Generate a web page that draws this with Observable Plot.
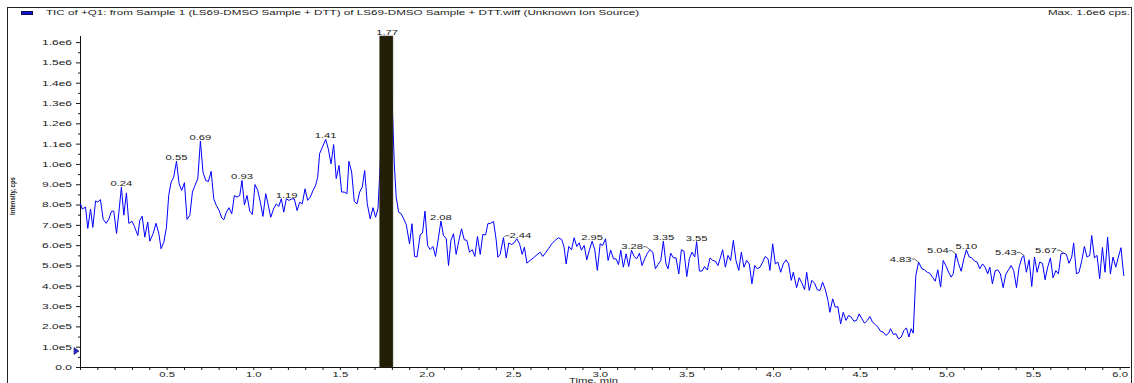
<!DOCTYPE html>
<html>
<head>
<meta charset="utf-8">
<script src="https://cdn.jsdelivr.net/npm/d3@7"></script>
<script src="https://cdn.jsdelivr.net/npm/@observablehq/plot@0.6"></script>
<style>
  body { margin: 0; background: #fff; }
  #wrap { position: relative; width: 1134px; height: 383px; overflow: hidden;
          font-family: "Liberation Sans", Arial, sans-serif; color: #1a1a1a; }
  #wrap svg { position: absolute; left: 0; top: 0; }
  #frame { position: absolute; left: 7px; top: 7px; width: 1125px; height: 430px;
           border: 1px solid #222; box-sizing: border-box; }
  #swatch { position: absolute; left: 21px; top: 11px; width: 12px; height: 4px;
            background: #1414d8; border: 1px solid #10104a; box-sizing: border-box; }
  .hd { position: absolute; top: 8px; font-size: 7.5px; line-height: 10px; white-space: nowrap; }
  #title { left: 46px; transform: scaleX(1.55); transform-origin: left center; }
  #maxt { right: 4px; transform: scaleX(1.55); transform-origin: right center; }
  #ylab { position: absolute; left: 12px; top: 196px; font-size: 8px; font-weight: bold;
          white-space: nowrap; transform: translate(-50%, -50%) rotate(-90deg) scaleX(0.75); }
</style>
</head>
<body>
<div id="wrap">
  <div id="frame"></div>
  <div id="swatch"></div>
  <div class="hd" id="title">TIC of +Q1: from Sample 1 (LS69-DMSO Sample + DTT) of LS69-DMSO Sample + DTT.wiff (Unknown Ion Source)</div>
  <div class="hd" id="maxt">Max. 1.6e6 cps.</div>
  <div id="ylab">Intensity, cps</div>
</div>
<script>
// ---- data: [time (min), intensity (x1e5 cps)] ----
const traceSegA = [[0.000,8.06],[0.010,7.8],[0.029,7.9],[0.042,6.85],[0.058,7.8],[0.071,6.9],[0.087,8.2],[0.100,8.15],[0.115,8.27],[0.131,7.3],[0.148,7.1],[0.163,7.3],[0.179,7.7],[0.192,7.7],[0.208,6.6],[0.221,7.6],[0.236,8.88],[0.250,7.5],[0.265,8.6],[0.279,7.1],[0.298,7.2],[0.311,6.95],[0.331,6.5],[0.342,7.24],[0.356,7.45],[0.371,6.42],[0.388,7.16],[0.400,6.22],[0.419,6.59],[0.436,7.1],[0.452,6.6],[0.465,5.85],[0.481,6.17],[0.496,6.9],[0.509,8.47],[0.523,9.13],[0.538,9.37],[0.554,10.16],[0.569,9.05],[0.584,8.72],[0.600,9.1],[0.615,7.29],[0.631,7.49],[0.646,8.64],[0.661,8.97],[0.677,9.3],[0.692,11.15],[0.707,9.62],[0.723,9.21],[0.738,9.16],[0.754,9.66],[0.769,8.31],[0.784,7.98],[0.800,7.73],[0.815,7.37],[0.827,7.27],[0.842,7.65],[0.857,7.87],[0.873,7.57],[0.888,8.47],[0.903,8.39],[0.919,8.47],[0.932,9.21],[0.946,8.01],[0.961,8.47],[0.977,7.7],[0.992,7.54],[1.007,9.01],[1.023,8.72],[1.038,8.14],[1.053,7.44],[1.069,8.56],[1.084,7.98],[1.098,7.4],[1.115,7.82],[1.130,8.06],[1.144,7.93],[1.159,8.31],[1.173,7.65],[1.188,8.31],[1.203,8.23],[1.219,8.3],[1.234,8.31],[1.250,7.73],[1.265,8.14],[1.280,8.06],[1.296,8.8],[1.311,8.23],[1.326,8.39],[1.342,8.72],[1.357,8.97],[1.369,9.37],[1.380,10.53],[1.396,10.85],[1.415,11.23],[1.430,10.77],[1.446,10.03],[1.461,10.98],[1.476,9.3],[1.492,9.95],[1.507,8.64],[1.522,8.64],[1.538,8.56],[1.549,10.15],[1.565,9.62],[1.580,8.18],[1.596,8.06],[1.611,8.64],[1.626,8.88],[1.640,9.7],[1.655,8.06],[1.672,7.32],[1.688,7.87],[1.703,7.4],[1.717,7.82],[1.730,10.1]];
const traceSegPeak = [[1.745,14.0],[1.770,16.3],[1.795,14.0]];
const traceSegB = [[1.811,10.03],[1.822,8.39],[1.836,7.65],[1.851,7.57],[1.865,7.32],[1.880,7.04],[1.899,6.09],[1.913,7.08],[1.928,5.47],[1.942,5.44],[1.961,6.55],[1.974,6.62],[1.988,7.7],[2.003,6.01],[2.018,5.81],[2.034,5.96],[2.049,5.47],[2.065,6.34],[2.080,7.21],[2.095,6.5],[2.111,6.34],[2.124,5.02],[2.138,6.26],[2.153,6.59],[2.168,5.57],[2.184,6.26],[2.199,6.83],[2.215,6.29],[2.230,6.26],[2.245,5.68],[2.261,5.8],[2.276,5.47],[2.291,6.45],[2.307,5.57],[2.322,6.55],[2.338,6.53],[2.351,7.08],[2.366,7.1],[2.384,7.19],[2.399,6.29],[2.409,5.43],[2.422,5.57],[2.441,6.39],[2.457,5.4],[2.472,6.13],[2.488,6.06],[2.503,6.14],[2.518,6.34],[2.534,6.09],[2.549,5.57],[2.562,5.93],[2.576,5.14],[2.595,5.27],[2.614,5.4],[2.634,5.55],[2.653,5.68],[2.668,5.47],[2.687,5.68],[2.701,5.85],[2.720,6.09],[2.739,6.26],[2.759,6.39],[2.778,6.29],[2.791,5.93],[2.803,5.1],[2.818,5.96],[2.834,5.8],[2.849,6.39],[2.864,5.96],[2.878,6.14],[2.891,5.78],[2.907,6.01],[2.922,5.3],[2.937,5.78],[2.953,6.22],[2.968,5.8],[2.983,4.78],[2.999,6.09],[3.014,6.01],[3.030,6.34],[3.045,5.27],[3.060,5.78],[3.076,5.35],[3.091,5.35],[3.105,5.07],[3.118,5.78],[3.133,4.94],[3.149,5.6],[3.164,4.97],[3.180,5.78],[3.195,5.47],[3.210,5.35],[3.226,5.63],[3.241,5.02],[3.256,5.35],[3.272,5.63],[3.287,5.8],[3.303,5.68],[3.318,4.86],[3.333,5.07],[3.349,5.27],[3.364,6.22],[3.379,5.1],[3.391,4.86],[3.406,5.63],[3.422,5.4],[3.437,5.4],[3.453,4.61],[3.468,5.8],[3.483,5.73],[3.499,4.48],[3.514,5.35],[3.529,5.68],[3.545,5.44],[3.556,6.2],[3.572,4.75],[3.587,4.75],[3.602,4.97],[3.618,4.8],[3.633,5.4],[3.649,5.27],[3.664,5.24],[3.679,5.02],[3.691,5.35]];
const traceSegC = [[3.706,5.8],[3.722,4.94],[3.737,5.52],[3.752,5.27],[3.768,6.26],[3.783,5.27],[3.799,4.78],[3.814,5.68],[3.829,4.94],[3.845,5.27],[3.860,5.1],[3.875,4.12],[3.891,5.02],[3.906,4.86],[3.922,4.94],[3.937,5.19],[3.952,5.47],[3.968,5.35],[3.979,4.78],[3.995,6.09],[4.010,5.1],[4.025,5.19],[4.041,4.69],[4.056,5.1],[4.072,5.3],[4.087,5.1],[4.102,4.29],[4.114,4.69],[4.133,3.93],[4.148,4.42],[4.164,4.15],[4.179,3.83],[4.191,4.69],[4.206,3.79],[4.221,4.29],[4.237,4.15],[4.252,3.83],[4.268,3.79],[4.283,4.2],[4.298,3.86],[4.314,3.3],[4.325,2.72],[4.341,3.38],[4.356,2.97],[4.371,3.0],[4.387,2.15],[4.402,2.72],[4.418,2.32],[4.433,2.56],[4.448,2.48],[4.464,2.28],[4.479,2.32],[4.494,2.64],[4.510,2.4],[4.525,2.18],[4.541,2.32],[4.556,2.51],[4.571,2.23],[4.587,2.12],[4.602,1.99],[4.617,1.79],[4.633,1.74],[4.648,1.58],[4.664,1.69],[4.675,1.91],[4.691,1.63],[4.706,1.66],[4.721,1.41],[4.737,1.5],[4.752,1.82],[4.767,1.95],[4.781,1.5],[4.794,1.91],[4.806,1.69],[4.821,4.53],[4.837,5.19]];
const traceSegD = [[4.856,4.86],[4.871,4.81],[4.887,4.69],[4.902,4.64],[4.917,4.45],[4.933,4.25],[4.948,4.81],[4.964,3.96],[4.979,5.27],[4.994,5.02],[5.010,4.69],[5.025,4.45],[5.037,4.61],[5.052,5.6],[5.067,5.13],[5.083,4.74],[5.098,5.35],[5.113,5.8],[5.129,5.44],[5.144,5.4],[5.160,5.24],[5.175,5.19],[5.190,4.86],[5.206,5.1],[5.221,4.94],[5.236,4.61],[5.248,4.94],[5.263,4.12],[5.279,4.77],[5.294,4.81],[5.309,4.61],[5.325,3.93],[5.340,4.58],[5.356,4.81],[5.371,5.02],[5.386,4.77],[5.402,3.93],[5.417,4.94],[5.433,5.4],[5.444,5.52],[5.459,4.69],[5.475,5.3],[5.490,3.99],[5.506,5.44],[5.521,4.69],[5.536,5.19],[5.552,5.13],[5.567,4.32],[5.582,4.94],[5.598,5.4],[5.613,4.42],[5.629,4.77],[5.644,4.61],[5.659,5.6],[5.675,5.63],[5.690,5.57],[5.705,5.13],[5.721,5.44],[5.732,6.13],[5.748,4.61],[5.763,4.69],[5.779,5.27],[5.794,5.96],[5.809,5.44],[5.825,5.52],[5.836,6.5],[5.852,5.4],[5.867,5.52],[5.882,4.37],[5.898,5.91],[5.913,4.69],[5.928,6.42],[5.944,4.61],[5.959,5.44],[5.975,4.94],[5.990,5.44],[6.005,5.9],[6.021,4.53]];

// labelled peaks
const peakLabels  = ["0.24","0.55","0.69","0.93","1.19","1.41","1.77","2.08","2.44","2.95","3.28","3.35","3.55","4.83","5.04","5.10","5.43","5.67"];
const peakTimes   = [0.236,0.554,0.692,0.932,1.190,1.415,1.770,2.080,2.441,2.953,3.287,3.364,3.556,4.837,5.052,5.113,5.444,5.675];
const peakHeights = [8.88,10.16,11.15,9.21,8.31,11.23,16.3,7.21,6.39,6.22,5.8,6.22,6.2,5.19,5.6,5.8,5.52,5.63];
const peakSides   = ["c","c","c","c","c","c","c","c","r","c","l","c","c","l","l","c","l","l"];

// saturated (filled) peak region
const filledPeak = [{start: 1.730, end: 1.806, height: 16.3}];

// threshold marker on the intensity axis (x1e5 cps)
const markerLevel = [0.81];

// axis ticks
const yTickValues = [0,1,2,3,4,5,6,7,8,9,10,11,12,13,14,15,16];
const yTickLabels = ["0.0","1.0e5","2.0e5","3.0e5","4.0e5","5.0e5","6.0e5","7.0e5","8.0e5","9.0e5","1.0e6","1.1e6","1.2e6","1.3e6","1.4e6","1.5e6","1.6e6"];
const xTickValues = [0.5,1.0,1.5,2.0,2.5,3.0,3.5,4.0,4.5,5.0,5.5,6.0];
const xTickLabels = ["0.5","1.0","1.5","2.0","2.5","3.0","3.5","4.0","4.5","5.0","5.5","6.0"];

const SCALE = 1e5;
const trace = [...traceSegA, ...traceSegPeak, ...traceSegB, ...traceSegC, ...traceSegD]
  .map(([t, v]) => ({t, v: v * SCALE}));
const peaks = peakLabels.map((label, i) => ({label, t: peakTimes[i], v: peakHeights[i] * SCALE, side: peakSides[i]}));
const yLabelMap = new Map(yTickValues.map((v, i) => [v * SCALE, yTickLabels[i]]));
const xLabelMap = new Map(xTickValues.map((v, i) => [v, xTickLabels[i]]));
const yMajor = yTickValues.map(v => v * SCALE);
const yMinor = yTickValues.slice(0, -1).map(v => (v + 0.5) * SCALE);
const xMinor = d3.range(0, 61).map(i => i / 10);

const leftLeader  = {draw(ctx) { ctx.moveTo(-7, -3); ctx.lineTo(-4, -3); ctx.lineTo(0, 0); }};
const rightLeader = {draw(ctx) { ctx.moveTo(0, 0); ctx.lineTo(2, -2); ctx.lineTo(6, -2); }};
const triangleRight = {draw(ctx) { ctx.moveTo(-5, -3.5); ctx.lineTo(0, 0); ctx.lineTo(-5, 3.5); ctx.closePath(); }};

const ink = "#1a1a1a";
const chart = Plot.plot({
  width: 1134, height: 383,
  marginLeft: 80, marginRight: 4, marginTop: 36, marginBottom: 16,
  style: {fontFamily: "'Liberation Sans', Arial, sans-serif", fontSize: "7.5px", color: ink, background: "transparent"},
  x: {domain: [0, 6.06]},
  y: {domain: [0, 16.3 * SCALE]},
  marks: [
    Plot.axisY({ticks: yMajor, tickSize: 4, tickPadding: 4.5, tickFormat: d => yLabelMap.get(d), label: null, fontSize: 7.5, className: "ylabels"}),
    Plot.axisY({ticks: yMinor, tickSize: 2, tickFormat: () => "", label: null}),
    Plot.axisX({ticks: xTickValues, tickSize: 0, tickPadding: 4, tickFormat: d => xLabelMap.get(d), label: null, fontSize: 7.5}),
    Plot.axisX({ticks: xMinor, tickSize: 3, tickFormat: () => "", label: null}),
    Plot.ruleX([0], {stroke: "#111"}),
    Plot.ruleY([0], {stroke: "#111"}),
    Plot.line(trace, {x: "t", y: "v", stroke: "#0000ff", strokeWidth: 1}),
    Plot.rectY(filledPeak, {x1: "start", x2: "end", y: d => d.height * SCALE, fill: "#231f07", stroke: "#3a3620", strokeWidth: 0.5}),
    Plot.text(peaks.filter(d => d.side === "c" && d.label !== "1.77"), {x: "t", y: "v", text: "label", lineAnchor: "bottom", dy: -1, fill: ink, fontSize: 7.5}),
    Plot.text(peaks.filter(d => d.label === "1.77"), {x: "t", y: "v", text: "label", lineAnchor: "bottom", dy: -2, fill: ink, fontSize: 7.5}),
    Plot.text(peaks.filter(d => d.side === "l"), {x: "t", y: "v", text: "label", textAnchor: "end", dx: -7, dy: -3, fill: ink, fontSize: 7.5}),
    Plot.text(peaks.filter(d => d.side === "r"), {x: "t", y: "v", text: "label", textAnchor: "start", dx: 6, dy: -2, fill: ink, fontSize: 7.5}),
    Plot.dot(peaks.filter(d => d.side === "l"), {x: "t", y: "v", symbol: leftLeader, fill: "none", stroke: "#444", strokeWidth: 0.8}),
    Plot.dot(peaks.filter(d => d.side === "r"), {x: "t", y: "v", symbol: rightLeader, fill: "none", stroke: "#444", strokeWidth: 0.8}),
    Plot.dot(markerLevel, {x: () => 0, y: d => d * SCALE, symbol: triangleRight, fill: "#2a2ad0", stroke: "#10104a", strokeWidth: 0.6, dx: -1.5}),
    Plot.text(["Time, min"], {frameAnchor: "bottom", dx: -12, dy: 10.5, lineAnchor: "top", fill: ink, fontSize: 7.5})
  ]
});
document.getElementById("wrap").append(chart);

// the source rendering has horizontally widened lettering: widen each text about its anchor
chart.querySelectorAll("text").forEach(t => {
  if (!t.textContent) return;
  const b = t.getBBox();
  if (!(b.width > 0)) return;
  const g = t.closest("g");
  const isYLabel = g && g.getAttribute("aria-label") === "y-axis tick label";
  const stretch = isYLabel ? 1.6 : 1.5;
  const anchor = getComputedStyle(t).textAnchor;
  const ax = anchor === "end" ? b.x + b.width : anchor === "middle" ? b.x + b.width / 2 : b.x;
  const prev = t.getAttribute("transform") || "";
  t.setAttribute("transform", `${prev} translate(${ax},0) scale(${stretch},1) translate(${-ax},0)`.trim());
});
</script>
</body>
</html>
